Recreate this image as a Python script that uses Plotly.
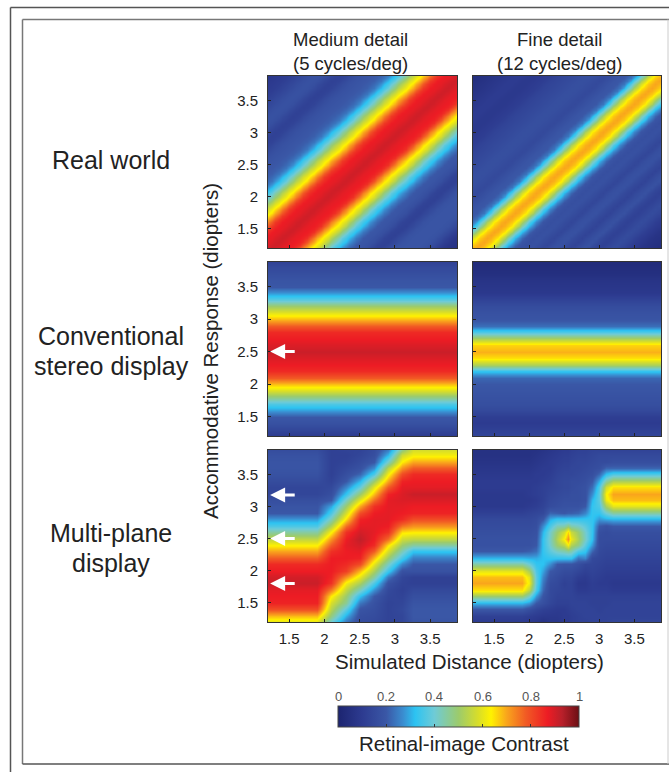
import plotly.graph_objects as go

W, H = 669, 772

# ---------- tick labels / categories ----------
TICKS = [1.5, 2, 2.5, 3, 3.5]
TICK_LABELS = ["1.5", "2", "2.5", "3", "3.5"]
CBAR_TICKS = [0, 0.2, 0.4, 0.6, 0.8, 1]
CBAR_LABELS = ["0", "0.2", "0.4", "0.6", "0.8", "1"]

# Accommodative response grid (rows of the stereo and multi-plane panels)
Y_GRID = [1.2, 1.3, 1.4, 1.5, 1.6, 1.7, 1.8, 1.9, 2.0, 2.1, 2.2, 2.3, 2.4, 2.5,
          2.6, 2.7, 2.8, 2.9, 3.0, 3.1, 3.2, 3.3, 3.4, 3.5, 3.6, 3.7, 3.8, 3.9]
# Finer grid of the two real-world panels
REAL_GRID = [1.2, 1.25, 1.3, 1.35, 1.4, 1.45, 1.5, 1.55, 1.6, 1.65, 1.7, 1.75, 1.8, 1.85,
             1.9, 1.95, 2.0, 2.05, 2.1, 2.15, 2.2, 2.25, 2.3, 2.35, 2.4, 2.45, 2.5, 2.55,
             2.6, 2.65, 2.7, 2.75, 2.8, 2.85, 2.9, 2.95, 3.0, 3.05, 3.1, 3.15, 3.2, 3.25,
             3.3, 3.35, 3.4, 3.45, 3.5, 3.55, 3.6, 3.65, 3.7, 3.75, 3.8, 3.85, 3.9]

# ---------- real world: contrast read along (response - distance), -2.7 .. 2.7 by 0.05 ----------
REAL_MEDIUM = [.06, .065, .07, .075, .08, .095, .11, .13, .15, .165, .18, .185, .19, .19,
               .19, .19, .19, .185, .18, .165, .15, .135, .12, .125, .13, .15, .17, .18,
               .19, .195, .20, .22, .24, .275, .31, .345, .38, .43, .48, .53, .58, .615,
               .65, .695, .74, .79, .84, .86, .87, .875, .88, .89, .90, .905, .90, .89,
               .88, .875, .87, .85, .83, .785, .74, .695, .65, .615, .58, .535, .49, .44,
               .39, .35, .31, .275, .24, .225, .21, .205, .20, .195, .19, .185, .18, .17,
               .16, .145, .13, .125, .12, .13, .14, .155, .17, .175, .18, .175, .17, .16,
               .15, .14, .13, .12, .11, .105, .10, .095, .09, .085, .08]
REAL_FINE = [.04, .045, .05, .055, .06, .065, .07, .08, .09, .10, .11, .125, .14, .15,
             .16, .15, .14, .13, .12, .13, .14, .16, .18, .17, .16, .145, .13, .14,
             .15, .165, .18, .175, .17, .155, .14, .15, .16, .17, .18, .175, .17, .18,
             .19, .22, .26, .31, .37, .44, .52, .58, .64, .67, .69, .70, .69, .67,
             .64, .58, .52, .44, .37, .30, .24, .22, .20, .195, .19, .18, .17, .16,
             .15, .155, .16, .165, .17, .17, .17, .165, .16, .155, .15, .145, .14, .135,
             .13, .12, .11, .105, .10, .095, .09, .09, .09, .095, .10, .10, .10, .095,
             .09, .085, .08, .075, .07, .065, .06, .055, .05, .045, .04]

# ---------- conventional stereo: contrast for each response value ----------
STEREO_X = [1.2, 3.9]
STEREO_MEDIUM = [.10, .14, .18, .20, .29, .36, .48, .58, .68, .78, .85, .87, .89, .91,
                 .89, .87, .85, .78, .68, .60, .50, .38, .28, .20, .19, .17, .15, .12]
STEREO_FINE = [.14, .12, .10, .11, .15, .17, .18, .19, .20, .22, .33, .52, .65, .69,
               .66, .53, .36, .23, .19, .18, .16, .13, .09, .08, .07, .05, .04, .03]

# ---------- multi-plane: columns of contrast at the listed simulated distances ----------
MULTI_MEDIUM_X = [1.2, 1.9, 2.1, 2.3, 2.5, 2.7, 2.9, 3.1, 3.25, 3.9]
MM_NEAR = [.60, .68, .80, .86, .87, .88, .91, .90, .87, .85, .78, .70, .63, .55,
           .45, .36, .28, .20, .19, .17, .14, .14, .16, .18, .19, .19, .18, .16]
MM_21 = [.40, .48, .54, .58, .64, .74, .84, .86, .87, .87, .87, .84, .78, .72,
         .63, .53, .43, .36, .29, .20, .17, .15, .13, .12, .12, .12, .12, .12]
MM_23 = [.24, .30, .38, .46, .50, .55, .62, .72, .82, .85, .87, .87, .88, .87,
         .84, .76, .65, .58, .50, .42, .33, .26, .20, .17, .15, .13, .12, .13]
MM_25 = [.16, .17, .19, .24, .32, .42, .52, .60, .68, .80, .86, .88, .90, .92,
         .90, .88, .86, .80, .70, .60, .50, .39, .31, .22, .18, .16, .14, .13]
MM_27 = [.15, .16, .17, .18, .20, .27, .36, .45, .52, .60, .68, .78, .85, .87,
         .88, .88, .88, .87, .84, .76, .68, .60, .50, .36, .27, .20, .17, .16]
MM_29 = [.13, .13, .13, .13, .14, .15, .18, .24, .34, .42, .50, .58, .65, .76,
         .84, .87, .88, .88, .88, .88, .86, .78, .70, .62, .54, .42, .31, .24]
MM_31 = [.14, .14, .15, .14, .13, .12, .13, .14, .18, .26, .35, .43, .50, .57,
         .65, .75, .85, .87, .88, .89, .89, .88, .86, .80, .72, .64, .57, .46]
MM_FAR = [.19, .20, .20, .19, .17, .15, .12, .12, .18, .20, .25, .33, .45, .55,
          .64, .72, .80, .86, .87, .89, .91, .88, .87, .85, .78, .70, .62, .57]
MULTI_MEDIUM_COLS = [MM_NEAR, MM_NEAR, MM_21, MM_23, MM_25, MM_27, MM_29, MM_31, MM_FAR, MM_FAR]

MULTI_FINE_X = [1.2, 1.9, 2.0, 2.1, 2.2, 2.3, 2.4, 2.5, 2.55, 2.6, 2.7, 2.8, 2.9, 3.0, 3.1, 3.2, 3.9]
MF_NEAR = [.10, .12, .20, .31, .50, .65, .70, .68, .60, .45, .31, .20, .18, .18,
           .17, .16, .15, .12, .09, .09, .09, .10, .10, .09, .08, .07, .06, .06]
MF_20 = [.09, .11, .17, .28, .42, .55, .62, .60, .52, .40, .30, .21, .18, .18,
         .17, .16, .15, .13, .10, .09, .10, .10, .10, .09, .08, .07, .06, .06]
MF_21 = [.08, .10, .14, .20, .28, .36, .38, .38, .36, .33, .30, .23, .20, .19,
         .18, .17, .16, .14, .11, .10, .11, .11, .10, .10, .09, .08, .07, .06]
MF_22 = [.06, .09, .12, .17, .19, .22, .24, .26, .29, .32, .32, .33, .33, .33,
         .31, .27, .20, .15, .13, .12, .12, .12, .11, .10, .10, .09, .08, .07]
MF_23 = [.08, .09, .11, .14, .15, .15, .16, .18, .20, .27, .33, .38, .41, .42,
         .41, .36, .30, .22, .16, .15, .14, .13, .12, .11, .10, .10, .09, .08]
MF_24 = [.08, .09, .10, .12, .13, .14, .15, .16, .18, .20, .33, .42, .50, .53,
         .50, .43, .33, .21, .17, .16, .15, .14, .14, .13, .12, .11, .10, .09]
MF_25 = [.10, .10, .10, .12, .13, .13, .12, .14, .16, .19, .33, .44, .54, .63,
         .57, .44, .33, .20, .18, .17, .16, .15, .15, .14, .13, .12, .11, .10]
MF_255 = [.10, .10, .11, .12, .13, .13, .13, .14, .16, .19, .33, .46, .62, .72,
          .66, .48, .33, .21, .18, .17, .16, .15, .15, .14, .13, .12, .11, .10]
MF_26 = [.11, .11, .12, .13, .13, .13, .13, .14, .16, .19, .33, .44, .53, .61,
         .56, .44, .33, .21, .18, .17, .17, .16, .16, .14, .14, .13, .12, .11]
MF_27 = [.12, .12, .13, .13, .12, .10, .09, .11, .14, .17, .24, .36, .48, .52,
         .50, .42, .33, .22, .18, .17, .17, .17, .16, .15, .14, .14, .13, .12]
MF_28 = [.12, .13, .13, .13, .12, .10, .09, .10, .12, .14, .26, .33, .38, .42,
         .41, .38, .33, .26, .20, .18, .18, .18, .17, .16, .15, .14, .13, .12]
MF_29 = [.13, .13, .13, .12, .12, .11, .11, .12, .13, .14, .15, .22, .28, .32,
         .33, .33, .33, .33, .33, .31, .27, .23, .20, .17, .16, .15, .14, .13]
MF_30 = [.13, .13, .12, .12, .12, .11, .10, .11, .12, .13, .14, .15, .16, .16,
         .17, .20, .28, .33, .36, .38, .38, .36, .30, .22, .17, .16, .15, .13]
MF_31 = [.13, .13, .13, .12, .12, .11, .10, .10, .11, .12, .13, .14, .15, .16,
         .16, .18, .30, .40, .52, .61, .63, .57, .45, .32, .22, .16, .15, .13]
MF_FAR = [.14, .13, .13, .13, .12, .10, .09, .10, .11, .12, .13, .14, .15, .16,
          .17, .20, .31, .45, .60, .68, .70, .65, .52, .36, .22, .17, .15, .13]
MULTI_FINE_COLS = [MF_NEAR, MF_NEAR, MF_20, MF_21, MF_22, MF_23, MF_24, MF_25, MF_255, MF_26,
                   MF_27, MF_28, MF_29, MF_30, MF_31, MF_FAR, MF_FAR]

# ---------- colour scale ----------
COLORSCALE = [[0, "#1c2470"], [0.1, "#2d3b90"], [0.2, "#3a57a6"], [0.27, "#3a8dd0"],
              [0.32, "#2cc3f2"], [0.4, "#6fcbd6"], [0.5, "#9ccb6c"], [0.58, "#d7dd2a"],
              [0.635, "#fff200"], [0.7, "#f9a51c"], [0.78, "#f15a24"], [0.87, "#ed1c24"],
              [0.93, "#b8202a"], [1, "#6b0f14"]]


def diag(profile):
    """Lay the read diagonal profile out on the grid: row i, column j holds offset i - j."""
    n = len(REAL_GRID)
    return [[profile[i - j + n - 1] for j in range(n)] for i in range(n)]


def from_cols(cols):
    return [list(r) for r in zip(*cols)]


panels = [
    (REAL_GRID, REAL_GRID, diag(REAL_MEDIUM)),
    (REAL_GRID, REAL_GRID, diag(REAL_FINE)),
    (STEREO_X, Y_GRID, [[v, v] for v in STEREO_MEDIUM]),
    (STEREO_X, Y_GRID, [[v, v] for v in STEREO_FINE]),
    (MULTI_MEDIUM_X, Y_GRID, from_cols(MULTI_MEDIUM_COLS)),
    (MULTI_FINE_X, Y_GRID, from_cols(MULTI_FINE_COLS)),
]

COL_PX = [(268, 457), (473, 661)]
ROW_PX = [(76, 248), (262, 436), (450, 622)]
RANGE = [1.2, 3.88]
TICK_FONT = dict(family="Liberation Sans, Arial, sans-serif", size=15, color="#222222")
TEXT = "Liberation Sans, Arial, sans-serif"

fig = go.Figure()
layout_axes = {}
for k, (xs, ys, z) in enumerate(panels):
    r, c = k // 2, k % 2
    n = "" if k == 0 else str(k + 1)
    fig.add_trace(go.Heatmap(x=xs, y=ys, z=z, coloraxis="coloraxis", zsmooth="best",
                             xaxis="x" + n, yaxis="y" + n, hoverinfo="skip"))
    layout_axes["xaxis" + n] = dict(
        domain=[COL_PX[c][0] / W, COL_PX[c][1] / W], range=RANGE, anchor="y" + n,
        tickvals=TICKS, ticktext=TICK_LABELS, ticks="inside", ticklen=3, tickcolor="#222",
        showticklabels=(r == 2), tickfont=TICK_FONT, showgrid=False, zeroline=False,
        showline=True, mirror=True, linecolor="#333", linewidth=1, ticklabelstandoff=3)
    layout_axes["yaxis" + n] = dict(
        domain=[1 - ROW_PX[r][1] / H, 1 - ROW_PX[r][0] / H], range=RANGE, anchor="x" + n,
        tickvals=TICKS, ticktext=TICK_LABELS, ticks="inside", ticklen=3, tickcolor="#222",
        showticklabels=(c == 0), tickfont=TICK_FONT, showgrid=False, zeroline=False,
        showline=True, mirror=True, linecolor="#333", linewidth=1, ticklabelstandoff=6)


def px_text(text, x, y, size, angle=0, color="#222222"):
    return dict(text=text, x=x / W, y=1 - y / H, xref="paper", yref="paper", showarrow=False,
                xanchor="center", yanchor="middle", textangle=angle,
                font=dict(family=TEXT, size=size, color=color))


annotations = [
    px_text("Medium detail", 350, 40, 18.5),
    px_text("(5 cycles/deg)", 350, 64, 18.5),
    px_text("Fine detail", 559, 40, 18.5),
    px_text("(12 cycles/deg)", 559, 64, 18.5),
    px_text("Real world", 111, 160, 25),
    px_text("Conventional", 111, 336, 25),
    px_text("stereo display", 111, 366, 25),
    px_text("Multi-plane", 111, 533, 25),
    px_text("display", 111, 563, 25),
    px_text("Accommodative Response (diopters)", 210, 351, 20.5, angle=-90),
    px_text("Simulated Distance (diopters)", 470, 661, 20.5),
    px_text("Retinal-image Contrast", 464, 743, 20.5),
]
for v, label in zip(CBAR_TICKS, CBAR_LABELS):
    annotations.append(px_text(label, 338 + 241 * v, 696, 13, color="#555555"))

ARROWS = [("x3", "y3", 2.5), ("x5", "y5", 3.18), ("x5", "y5", 2.5), ("x5", "y5", 1.8)]
for xr, yr, yv in ARROWS:
    annotations.append(dict(x=1.23, y=yv, ax=1.6, ay=yv, xref=xr, yref=yr, axref=xr, ayref=yr,
                            showarrow=True, arrowhead=2, arrowsize=1, arrowwidth=3,
                            arrowcolor="white", text=""))


def line(x0, y0, x1, y1, color, width=1.5):
    return dict(type="line", xref="paper", yref="paper", x0=x0 / W, x1=x1 / W,
                y0=1 - y0 / H, y1=1 - y1 / H, line=dict(color=color, width=width), layer="below")


shapes = [
    line(10.5, 7.5, W, 7.5, "#555555"),
    line(10.5, 7.5, 10.5, H, "#555555"),
    line(22.5, 19.5, W, 19.5, "#777777"),
    line(22.5, 19.5, 22.5, 764, "#777777"),
    line(22.5, 764, W, 764, "#555555"),
    line(668, 19.5, 668, 764, "#cccccc", 1),
]

fig.update_layout(
    width=W, height=H, margin=dict(l=0, r=0, t=0, b=0, autoexpand=False),
    paper_bgcolor="white", plot_bgcolor="white", showlegend=False,
    annotations=annotations, shapes=shapes,
    coloraxis=dict(
        cmin=0, cmax=1, colorscale=COLORSCALE,
        colorbar=dict(orientation="h", x=338 / W, xanchor="left", y=1 - 706 / H, yanchor="top",
                      lenmode="pixels", len=241, thicknessmode="pixels", thickness=21,
                      xpad=0, ypad=0, outlinewidth=1, outlinecolor="#444", tickvals=CBAR_TICKS,
                      ticks="inside", ticklen=3, tickcolor="#333", showticklabels=False)),
    **layout_axes)

fig.write_html("out.html", config={"displayModeBar": False},
               post_script="document.body.style.margin='0';")
